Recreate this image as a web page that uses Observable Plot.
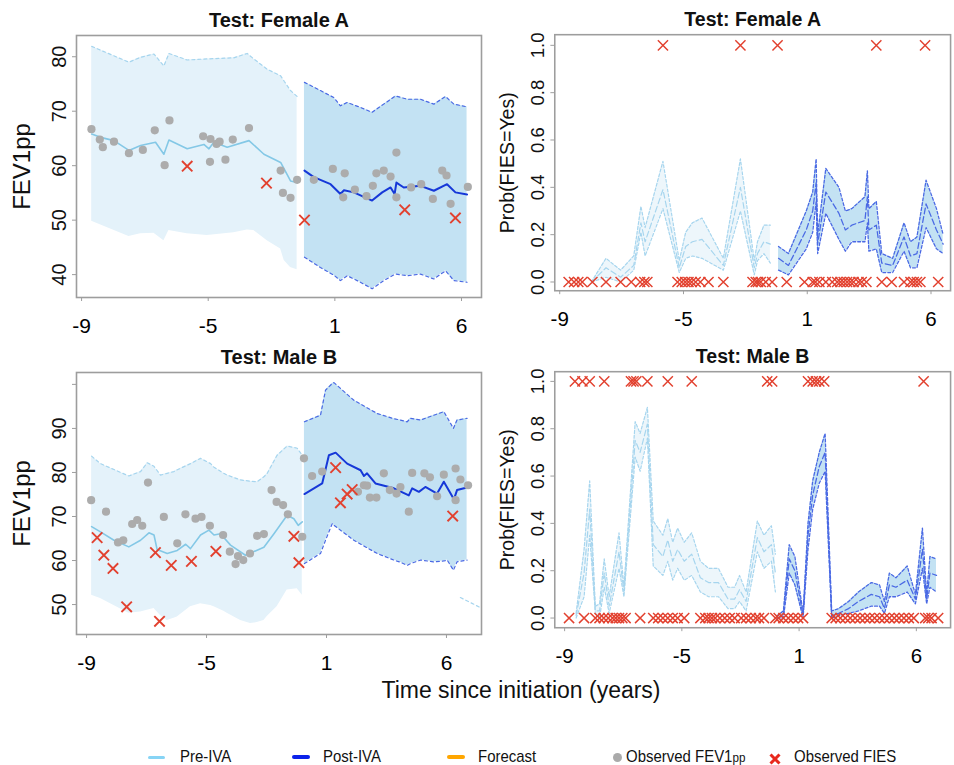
<!DOCTYPE html>
<html><head><meta charset="utf-8">
<script src="https://cdn.jsdelivr.net/npm/d3@7"></script>
<script src="https://cdn.jsdelivr.net/npm/@observablehq/plot@0.6"></script>
<style>
html,body{margin:0;padding:0;background:#fff;}
body{width:954px;height:765px;overflow:hidden;position:relative;font-family:Arial,"Liberation Sans",Helvetica,sans-serif;}
.pan{position:absolute;}
.lab{position:absolute;white-space:nowrap;color:#111;}
.leg{position:absolute;white-space:nowrap;font-size:17px;color:#111;transform:scaleX(0.88);transform-origin:left center;line-height:20px;top:747px;}
.sw{position:absolute;}
</style></head><body>
<script>
// ---------- axis ticks ----------
const xTickVals = [-9, -4, 1, 6];
const xTickLabels = ["-9", "-5", "1", "6"];
const faYTicks = [40, 50, 60, 70, 80];
const mbYTicks = [50, 60, 70, 80, 90, 100];
const mbYLabelTicks = [50, 60, 70, 80, 90];
const probTicks = [0, 0.2, 0.4, 0.6, 0.8, 1.0];
const probLabels = ["0.0", "0.2", "0.4", "0.6", "0.8", "1.0"];

// ---------- Female A : FEV1pp ----------
const faPreBandX  = [-8.6, -7.13, -6.67, -6.14, -5.75, -5.55, -4.83, -4.04, -2.99, -2.46, -2.2, -1.67, -1.14, -1.0, -0.75, -0.49];
const faPreBandHi = [81.9, 79.0, 79.9, 80.5, 78.3, 80.6, 79.4, 79.6, 79.8, 80.6, 79.6, 77.7, 76.5, 75.5, 73.8, 72.7];
const faPreBandLo = [49.8, 47.0, 47.5, 47.6, 46.2, 48.1, 47.5, 47.2, 47.7, 48.2, 48.1, 46.2, 44.7, 42.6, 41.3, 40.9];
const faPreMeanX  = [-8.6, -8.25, -7.72, -7.13, -6.67, -6.08, -5.75, -5.55, -4.83, -4.17, -3.97, -3.78, -3.25, -2.39, -1.8, -1.14, -0.75, -0.49];
const faPreMeanY  = [65.8, 65.2, 64.6, 62.8, 63.7, 64.3, 62.1, 64.7, 63.1, 63.9, 63.1, 64.3, 63.4, 64.6, 62.1, 60.6, 57.2, 56.9];
const faPostBandX  = [-0.2, 0.43, 0.96, 1.22, 1.49, 2.01, 2.47, 2.93, 3.39, 3.86, 4.38, 4.91, 5.37, 5.7, 6.22];
const faPostBandHi = [75.3, 73.8, 72.5, 71.0, 71.6, 70.7, 69.8, 71.3, 72.8, 72.2, 72.2, 71.3, 72.7, 71.3, 70.8];
const faPostBandLo = [43.2, 41.3, 39.9, 38.9, 39.8, 38.6, 37.4, 38.9, 40.1, 39.8, 40.1, 39.2, 40.7, 38.9, 38.6];
const faPostMeanX = [-0.2, 0.17, 0.83, 1.22, 1.36, 1.75, 2.47, 2.87, 3.2, 3.36, 3.43, 3.72, 4.38, 4.91, 5.43, 5.76, 6.22];
const faPostMeanY = [59.1, 57.9, 56.6, 54.8, 55.5, 55.1, 53.6, 55.1, 56.0, 54.8, 56.9, 56.0, 56.3, 55.4, 56.6, 55.1, 54.7];
const faObsX = [-8.61, -8.28, -8.16, -7.72, -7.13, -6.58, -6.11, -5.72, -5.53, -4.2, -3.91, -3.93, -3.67, -3.55, -3.32, -3.03, -2.39, -1.14, -1.05, -0.75, -0.49, 0.17, 0.92, 1.39, 1.33, 1.79, 2.25, 2.5, 2.64, 2.93, 3.2, 3.43, 3.43, 4.01, 4.41, 4.87, 5.24, 5.41, 5.57, 6.25];
const faObsY = [66.7, 64.8, 63.4, 64.4, 62.3, 62.9, 66.5, 60.1, 68.3, 65.4, 64.9, 60.7, 64.0, 64.4, 61.1, 64.8, 66.9, 59.1, 55.0, 54.1, 57.4, 57.4, 59.4, 58.6, 54.2, 55.6, 54.4, 56.3, 58.6, 59.1, 58.0, 62.4, 54.2, 56.0, 56.6, 53.9, 59.1, 58.2, 53.0, 56.1];
const faFiesX = [-4.83, -1.7, -0.2, 3.76, 5.76];
const faFiesY = [59.9, 56.8, 50.0, 51.9, 50.4];

// ---------- Female A : Prob(FIES=Yes) ----------
const faPPreX   = [-7.72, -7.13, -6.54, -6.01, -5.72, -5.55, -4.83, -4.17, -3.91, -3.64, -3.25, -2.39, -1.7, -1.14, -1.01, -0.75, -0.49];
const faPPreHi  = [0.0, 0.10, 0.05, 0.11, 0.32, 0.23, 0.51, 0.09, 0.21, 0.25, 0.27, 0.10, 0.52, 0.09, 0.17, 0.24, 0.24];
const faPPreMid = [0.0, 0.06, 0.02, 0.07, 0.25, 0.17, 0.39, 0.06, 0.15, 0.17, 0.18, 0.07, 0.40, 0.06, 0.12, 0.17, 0.16];
const faPPreLo  = [0.0, 0.02, 0.0, 0.05, 0.21, 0.11, 0.31, 0.04, 0.10, 0.11, 0.10, 0.05, 0.30, 0.03, 0.09, 0.12, 0.08];
const faPPostX   = [-0.16, 0.24, 0.96, 1.22, 1.36, 1.42, 1.75, 2.28, 2.54, 2.8, 3.33, 3.43, 3.49, 3.79, 4.01, 4.45, 4.91, 5.17, 5.43, 5.8, 6.22, 6.49];
const faPPostHi  = [0.15, 0.12, 0.30, 0.38, 0.52, 0.20, 0.48, 0.40, 0.30, 0.31, 0.36, 0.47, 0.31, 0.34, 0.12, 0.10, 0.25, 0.17, 0.19, 0.43, 0.31, 0.20];
const faPPostMid = [0.10, 0.07, 0.22, 0.30, 0.42, 0.16, 0.38, 0.29, 0.22, 0.24, 0.26, 0.36, 0.22, 0.24, 0.08, 0.07, 0.19, 0.11, 0.12, 0.33, 0.22, 0.16];
const faPPostLo  = [0.05, 0.03, 0.14, 0.21, 0.34, 0.12, 0.29, 0.18, 0.13, 0.17, 0.17, 0.25, 0.13, 0.14, 0.04, 0.04, 0.13, 0.06, 0.06, 0.23, 0.14, 0.12];
const faFiesYesX = [-4.83, -1.70, -0.20, 3.79, 5.76];
const faFiesNoX  = [-8.64, -8.42, -8.25, -8.09, -7.68, -7.13, -6.54, -6.11, -5.75, -5.58, -5.46, -4.24, -4.07, -3.93, -3.80, -3.67, -3.51, -3.32, -2.99, -2.39, -1.21, -1.08, -0.99, -0.88, -0.68, -0.42, 0.17, 0.89, 1.22, 1.33, 1.49, 1.75, 2.01, 2.21, 2.34, 2.47, 2.61, 2.74, 2.87, 3.07, 3.20, 3.39, 4.01, 4.41, 4.91, 5.17, 5.30, 5.43, 5.57, 6.29];

// ---------- Male B : FEV1pp ----------
const mbPreBandX  = [-8.79, -8.42, -7.24, -6.75, -6.47, -6.19, -5.92, -5.64, -5.36, -5.22, -4.67, -4.25, -3.83, -3.69, -3.28, -3.14, -2.58, -2.17, -1.89, -1.61, -1.47, -1.06, -0.64, -0.22, -0.01];
const mbPreBandHi = [83.7, 82.0, 79.2, 80.2, 82.2, 81.4, 79.4, 79.8, 80.2, 80.6, 82.0, 83.2, 82.0, 81.2, 79.8, 79.4, 78.3, 78.0, 77.9, 79.0, 79.8, 83.9, 86.0, 85.5, 83.9];
const mbPreBandLo = [52.1, 51.4, 48.0, 48.3, 48.7, 49.1, 47.5, 46.4, 46.9, 47.2, 49.5, 50.2, 49.8, 49.5, 48.5, 48.0, 46.4, 45.7, 45.9, 46.4, 47.3, 49.5, 53.3, 53.6, 52.1];
const mbPreMeanX  = [-8.79, -8.42, -7.86, -7.24, -6.75, -6.4, -6.19, -6.06, -5.64, -5.22, -4.87, -4.67, -4.25, -3.9, -3.69, -3.42, -3.0, -2.38, -1.61, -1.19, -0.64, -0.36, -0.18, -0.01];
const mbPreMeanY  = [67.7, 66.5, 64.6, 63.1, 64.6, 66.3, 65.8, 62.5, 61.6, 62.3, 63.7, 62.7, 65.8, 66.9, 65.8, 66.1, 63.5, 61.2, 63.0, 66.1, 70.3, 69.5, 68.0, 68.8];
const mbPostBandX  = [0.08, 0.75, 0.96, 1.24, 1.31, 2.14, 3.11, 3.81, 4.08, 4.36, 4.5, 4.92, 5.47, 5.89, 6.03, 6.29, 6.44, 6.86];
const mbPostBandHi = [91.5, 93.0, 98.7, 100.2, 100.4, 96.4, 93.4, 92.2, 91.9, 91.5, 92.3, 91.9, 93.0, 93.8, 92.5, 90.0, 91.9, 92.3];
const mbPostBandLo = [59.3, 61.6, 64.6, 68.4, 68.0, 64.6, 61.6, 60.1, 59.6, 58.9, 59.3, 60.1, 59.7, 59.9, 60.1, 57.8, 59.7, 60.1];
const mbPostMeanX = [0.08, 0.82, 1.1, 1.38, 1.86, 2.42, 2.56, 2.69, 3.04, 3.81, 4.43, 4.57, 4.85, 5.12, 5.61, 5.89, 6.31, 6.44, 6.86];
const mbPostMeanY = [75.1, 77.5, 83.9, 84.5, 82.0, 80.5, 79.2, 79.8, 77.5, 76.4, 74.8, 76.4, 75.6, 76.7, 75.2, 77.9, 73.9, 76.0, 76.6];
const mbTailX = [6.58, 7.42];
const mbTailY = [51.6, 49.3];
const mbObsX = [-8.81, -8.19, -7.69, -7.47, -7.1, -6.89, -6.68, -6.44, -5.78, -5.22, -4.88, -4.46, -4.21, -3.86, -3.31, -3.03, -2.79, -2.69, -2.47, -2.19, -1.89, -1.61, -1.29, -1.08, -0.81, -0.61, -0.01, 0.06, 0.4, 0.82, 2.31, 2.56, 2.69, 2.81, 3.08, 3.39, 3.64, 3.92, 4.08, 4.43, 4.57, 5.08, 5.31, 5.61, 5.89, 6.38, 6.38, 6.58, 6.9];
const mbObsY = [73.7, 71.1, 64.1, 64.6, 68.3, 69.2, 67.9, 77.7, 69.9, 63.9, 70.5, 69.5, 69.9, 67.9, 65.8, 62.0, 59.2, 61.0, 60.1, 61.6, 65.6, 66.0, 76.0, 73.3, 72.6, 70.5, 65.4, 83.2, 79.2, 80.2, 75.6, 77.1, 77.0, 74.3, 74.3, 79.8, 76.0, 75.2, 76.7, 71.1, 79.9, 79.8, 78.9, 74.6, 79.5, 80.9, 73.7, 78.4, 77.1];
const mbFiesX = [-8.56, -8.28, -7.9, -7.33, -6.13, -5.96, -5.47, -4.63, -3.61, -0.36, -0.15, 1.38, 1.58, 1.86, 2.07, 6.26];
const mbFiesY = [65.2, 61.2, 58.2, 49.5, 61.8, 46.2, 58.9, 59.8, 62.1, 65.5, 59.5, 81.1, 73.1, 75.1, 76.1, 70.1];

// ---------- Male B : Prob(FIES=Yes) ----------
const mbPPreX   = [-8.51, -8.17, -7.93, -7.69, -7.51, -7.31, -7.1, -6.68, -6.47, -5.99, -5.78, -5.47, -5.22, -4.81, -4.6, -4.39, -4.18, -3.9, -3.58, -3.21, -2.86, -2.44, -2.03, -1.75, -1.54, -1.26, -0.78, -0.5, -0.18, -0.01];
const mbPPreHi  = [0.02, 0.29, 0.58, 0.05, 0.06, 0.25, 0.09, 0.36, 0.13, 0.83, 0.78, 0.89, 0.41, 0.35, 0.42, 0.32, 0.38, 0.32, 0.36, 0.24, 0.21, 0.21, 0.13, 0.13, 0.18, 0.11, 0.41, 0.35, 0.39, 0.27];
const mbPPreMid = [0.01, 0.19, 0.46, 0.03, 0.03, 0.19, 0.05, 0.28, 0.11, 0.75, 0.70, 0.82, 0.31, 0.26, 0.33, 0.24, 0.29, 0.24, 0.27, 0.17, 0.15, 0.15, 0.08, 0.08, 0.12, 0.07, 0.34, 0.28, 0.31, 0.19];
const mbPPreLo  = [0.0, 0.09, 0.35, 0.02, 0.0, 0.13, 0.02, 0.21, 0.09, 0.68, 0.62, 0.76, 0.22, 0.18, 0.24, 0.16, 0.21, 0.16, 0.18, 0.11, 0.09, 0.09, 0.04, 0.04, 0.07, 0.03, 0.28, 0.21, 0.24, 0.11];
const mbPPostX   = [0.06, 0.33, 0.58, 0.82, 1.17, 1.38, 1.58, 1.86, 2.11, 2.39, 2.69, 3.11, 3.53, 4.08, 4.43, 4.64, 4.85, 5.13, 5.61, 5.96, 6.26, 6.44, 6.58, 6.86];
const mbPPostHi  = [0.01, 0.03, 0.31, 0.26, 0.02, 0.40, 0.58, 0.70, 0.78, 0.03, 0.04, 0.07, 0.11, 0.15, 0.14, 0.07, 0.19, 0.17, 0.22, 0.10, 0.38, 0.10, 0.26, 0.25];
const mbPPostMid = [0.0, 0.01, 0.25, 0.20, 0.01, 0.35, 0.52, 0.64, 0.70, 0.01, 0.02, 0.04, 0.07, 0.10, 0.09, 0.04, 0.14, 0.13, 0.16, 0.08, 0.29, 0.08, 0.19, 0.18];
const mbPPostLo  = [0.0, 0.0, 0.19, 0.14, 0.0, 0.29, 0.46, 0.57, 0.62, 0.0, 0.01, 0.02, 0.03, 0.05, 0.05, 0.02, 0.09, 0.09, 0.11, 0.06, 0.21, 0.06, 0.13, 0.11];
const mbFiesYesX = [-8.56, -8.24, -7.93, -7.31, -6.17, -6.06, -5.94, -5.47, -4.6, -3.58, -0.36, -0.15, 1.38, 1.58, 1.72, 1.86, 2.07, 6.31];
const mbFiesNoX  = [-8.81, -8.17, -7.69, -7.51, -7.33, -7.14, -6.96, -6.82, -6.68, -6.54, -6.40, -5.78, -5.22, -5.01, -4.81, -4.60, -4.39, -4.18, -3.90, -3.21, -3.0, -2.86, -2.72, -2.58, -2.38, -2.17, -1.96, -1.75, -1.47, -1.26, -1.06, -0.85, -0.71, -0.50, -0.01, 0.13, 0.33, 0.54, 0.75, 0.96, 1.17, 2.39, 2.56, 2.76, 2.97, 3.18, 3.39, 3.60, 3.81, 4.01, 4.22, 4.43, 4.64, 4.85, 5.06, 5.26, 5.47, 5.68, 5.89, 6.38, 6.51, 6.65, 6.93];

// ---------- styling ----------
const FONT = 'Arial, "Liberation Sans", Helvetica, sans-serif';
const C = {
  preFill: "#e4f2fa", preFillP: "#edf6fb", postFill: "#c3e2f3",
  preDash: "#a6d5ee", postDash: "#4a69e4",
  preLine: "#84c8e6", postLine: "#1638d8",
  grey: "#acacac", red: "#e2412f", box: "#9d9d9d"
};
const W = 485, H = 337;

const band = (X, lo, hi, mid) => X.map((x, i) => ({x, lo: lo[i], hi: hi[i], mid: mid ? mid[i] : null}));
const pts = (X, Y) => X.map((x, i) => ({x, y: Y[i]}));
const flat = (X, v) => X.map(x => ({x, y: v}));
const xLab = new Map(xTickVals.map((v, i) => [v, xTickLabels[i]]));

function panel(left, top, cfg) {
  const svg = Plot.plot({
    width: W, height: H,
    marginLeft: 76, marginRight: 4, marginTop: 35, marginBottom: 40,
    style: {background: "transparent", fontFamily: FONT, overflow: "visible"},
    x: {domain: cfg.xDomain, axis: null},
    y: {domain: cfg.yDomain, axis: null},
    marks: [
      ...cfg.marks,
      Plot.frame({stroke: C.box, strokeWidth: 1.6}),
      Plot.axisX(xTickVals, {tickSize: 4, tickPadding: 17, fontSize: 21, stroke: C.box, tickFormat: d => xLab.get(d), label: null}),
      Plot.axisY(cfg.yTicks, {tickSize: 4, stroke: C.box, fill: "none", label: null}),
      Plot.text(cfg.yLabelVals, {y: d => d, text: (d, i) => cfg.yLabelText[i], frameAnchor: "left", rotate: -90, dx: -11, lineAnchor: "bottom", textAnchor: "middle", fontSize: cfg.yTickFont, fill: "#111"}),
      Plot.text([cfg.yTitle], {text: d => d, frameAnchor: "left", rotate: -90, dx: cfg.yTitleDx, lineAnchor: "bottom", textAnchor: "middle", fontSize: cfg.yTitleFont, fill: "#111"}),
      Plot.text([cfg.title], {text: d => d, frameAnchor: "top", dy: -15, lineAnchor: "middle", fontWeight: "bold", fontSize: 20, fill: "#111"})
    ]
  });
  const d = document.createElement("div");
  d.className = "pan";
  d.style.left = left + "px";
  d.style.top = top + "px";
  d.appendChild(svg);
  document.body.appendChild(d);
}

function fevMarks(preB, preM, postB, postM, obs, fies, extra) {
  return [
    Plot.areaY(preB, {x: "x", y1: "lo", y2: "hi", fill: C.preFill}),
    Plot.areaY(postB, {x: "x", y1: "lo", y2: "hi", fill: C.postFill}),
    Plot.line(preB, {x: "x", y: "hi", stroke: C.preDash, strokeWidth: 1.2, strokeDasharray: "3,3"}),
    Plot.line(postB, {x: "x", y: "hi", stroke: C.postDash, strokeWidth: 1.2, strokeDasharray: "3,3"}),
    Plot.line(postB, {x: "x", y: "lo", stroke: C.postDash, strokeWidth: 1.2, strokeDasharray: "3,3"}),
    ...(extra || []),
    Plot.line(preM, {x: "x", y: "y", stroke: C.preLine, strokeWidth: 1.6}),
    Plot.line(postM, {x: "x", y: "y", stroke: C.postLine, strokeWidth: 2}),
    Plot.dot(obs, {x: "x", y: "y", r: 4.1, fill: C.grey, stroke: "none"}),
    Plot.dot(fies, {x: "x", y: "y", symbol: "times", r: 4.8, stroke: C.red, strokeWidth: 1.9})
  ];
}

function probMarks(preB, postB, yes, no) {
  const dash = "3,2";
  return [
    Plot.areaY(preB, {x: "x", y1: "lo", y2: "hi", fill: C.preFillP}),
    Plot.areaY(postB, {x: "x", y1: "lo", y2: "hi", fill: C.postFill}),
    Plot.line(preB, {x: "x", y: "hi", stroke: C.preDash, strokeWidth: 1.2, strokeDasharray: dash}),
    Plot.line(preB, {x: "x", y: "lo", stroke: C.preDash, strokeWidth: 1.2, strokeDasharray: dash}),
    Plot.line(preB, {x: "x", y: "mid", stroke: C.preDash, strokeWidth: 1.2, strokeDasharray: "6,3"}),
    Plot.line(postB, {x: "x", y: "hi", stroke: C.postDash, strokeWidth: 1.3, strokeDasharray: dash}),
    Plot.line(postB, {x: "x", y: "lo", stroke: C.postDash, strokeWidth: 1.3, strokeDasharray: dash}),
    Plot.line(postB, {x: "x", y: "mid", stroke: C.postDash, strokeWidth: 1.3, strokeDasharray: "6,3"}),
    Plot.dot(yes, {x: "x", y: "y", symbol: "times", r: 4.8, stroke: C.red, strokeWidth: 1.5}),
    Plot.dot(no, {x: "x", y: "y", symbol: "times", r: 4.8, stroke: C.red, strokeWidth: 1.5})
  ];
}

const topX = [-9.2, 6.79];
const botX = [-9.42, 7.46];

panel(0, 0, {
  title: "Test: Female A", xDomain: topX, yDomain: [35.8, 83.9],
  yTicks: faYTicks, yLabelVals: faYTicks, yLabelText: faYTicks.map(String), yTickFont: 20,
  yTitle: "FEV1pp", yTitleDx: -47, yTitleFont: 24,
  marks: fevMarks(band(faPreBandX, faPreBandLo, faPreBandHi), pts(faPreMeanX, faPreMeanY),
    band(faPostBandX, faPostBandLo, faPostBandHi), pts(faPostMeanX, faPostMeanY),
    pts(faObsX, faObsY), pts(faFiesX, faFiesY))
});

panel(480, 0, {
  title: "Test: Female A", xDomain: topX, yDomain: [-0.037, 1.045],
  yTicks: probTicks, yLabelVals: probTicks, yLabelText: probLabels, yTickFont: 19,
  yTitle: "Prob(FIES=Yes)", yTitleDx: -42, yTitleFont: 20,
  marks: probMarks(band(faPPreX, faPPreLo, faPPreHi, faPPreMid), band(faPPostX, faPPostLo, faPPostHi, faPPostMid),
    flat(faFiesYesX, 1), flat(faFiesNoX, 0))
});

panel(0, 337, {
  title: "Test: Male B", xDomain: botX, yDomain: [43.2, 102.7],
  yTicks: mbYTicks, yLabelVals: mbYLabelTicks, yLabelText: mbYLabelTicks.map(String), yTickFont: 20,
  yTitle: "FEV1pp", yTitleDx: -47, yTitleFont: 24,
  marks: fevMarks(band(mbPreBandX, mbPreBandLo, mbPreBandHi), pts(mbPreMeanX, mbPreMeanY),
    band(mbPostBandX, mbPostBandLo, mbPostBandHi), pts(mbPostMeanX, mbPostMeanY),
    pts(mbObsX, mbObsY), pts(mbFiesX, mbFiesY),
    [Plot.line(pts(mbTailX, mbTailY), {x: "x", y: "y", stroke: C.preDash, strokeWidth: 1.2, strokeDasharray: "3,3"})])
});

panel(480, 337, {
  title: "Test: Male B", xDomain: botX, yDomain: [-0.041, 1.041],
  yTicks: probTicks, yLabelVals: probTicks, yLabelText: probLabels, yTickFont: 19,
  yTitle: "Prob(FIES=Yes)", yTitleDx: -42, yTitleFont: 20,
  marks: probMarks(band(mbPPreX, mbPPreLo, mbPPreHi, mbPPreMid), band(mbPPostX, mbPPostLo, mbPPostHi, mbPPostMid),
    flat(mbFiesYesX, 1), flat(mbFiesNoX, 0))
});

// ---------- shared x title ----------
const xt = document.createElement("div");
xt.className = "lab";
xt.textContent = "Time since initiation (years)";
xt.style.cssText = "left:521px;top:676px;font-size:23px;line-height:28px;transform:translateX(-50%);";
document.body.appendChild(xt);

// ---------- legend ----------
const legendItems = [
  {kind: "line", color: "#87d4f5", x: 148, w: 17, h: 3, label: "Pre-IVA", tx: 180},
  {kind: "line", color: "#0b22ea", x: 292, w: 18, h: 4, label: "Post-IVA", tx: 323},
  {kind: "line", color: "#ffa600", x: 447, w: 18, h: 4, label: "Forecast", tx: 478},
  {kind: "dot", color: "#aaaaaa", x: 617, label: "Observed FEV1<span style='font-size:0.78em'>pp</span>", tx: 626},
  {kind: "x", color: "#e8281c", x: 775, label: "Observed FIES", tx: 794}
];
const LY = 757;
for (const it of legendItems) {
  const s = document.createElement("div");
  s.className = "sw";
  if (it.kind === "line") {
    s.style.cssText = `left:${it.x}px;top:${LY - it.h / 2}px;width:${it.w}px;height:${it.h}px;background:${it.color};border-radius:${it.h / 2}px;`;
  } else if (it.kind === "dot") {
    s.style.cssText = `left:${it.x - 4.5}px;top:${LY - 4.5}px;width:9px;height:9px;background:${it.color};border-radius:50%;`;
  } else {
    s.style.cssText = `left:${it.x - 6}px;top:${LY - 6}px;width:12px;height:12px;`;
    s.innerHTML = `<svg width="12" height="12"><path d="M1.5,1.5L10.5,10.5M10.5,1.5L1.5,10.5" stroke="${it.color}" stroke-width="3" stroke-linecap="butt"/></svg>`;
  }
  document.body.appendChild(s);
  const t = document.createElement("div");
  t.className = "leg";
  t.style.left = it.tx + "px";
  t.innerHTML = it.label;
  document.body.appendChild(t);
}
</script>
</body></html>
